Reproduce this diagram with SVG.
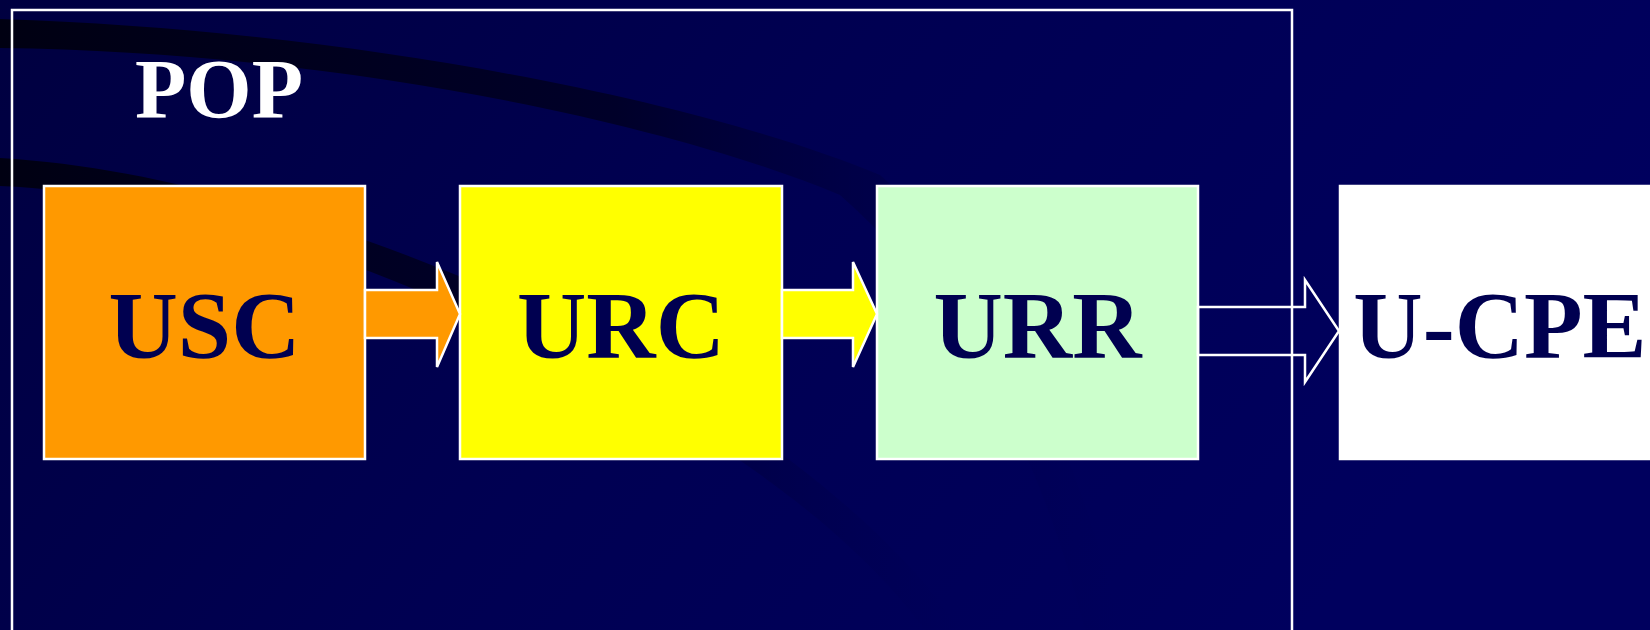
<svg xmlns="http://www.w3.org/2000/svg" width="1650" height="630" viewBox="0 0 1650 630">
  <defs>
    <linearGradient id="bg" x1="0" y1="0" x2="1" y2="0.3">
      <stop offset="0" stop-color="#000040"/>
      <stop offset="0.5" stop-color="#000052"/>
      <stop offset="1" stop-color="#00005E"/>
    </linearGradient>
    <linearGradient id="band" x1="0" y1="0" x2="1" y2="0">
      <stop offset="0" stop-color="#000012" stop-opacity="1"/>
      <stop offset="0.55" stop-color="#000020" stop-opacity="0.8"/>
      <stop offset="1" stop-color="#000050" stop-opacity="0"/>
    </linearGradient>
    <style>
      .box { stroke: #FFFFFF; stroke-width: 2.5; }
      .lbl { font-family: "Liberation Serif", "Times New Roman", serif; font-weight: bold; font-size: 96px; fill: #000050; text-anchor: middle; }
      .arrow { stroke: #FFFFFF; stroke-width: 2.5; stroke-linejoin: miter; }
    </style>
  </defs>

  <g id="background">
    <rect x="0" y="0" width="1650" height="630" fill="url(#bg)"/>
    <path d="M0,19 C350,30 700,100 880,175 C1000,280 1080,450 1120,630 L1085,630 C1040,450 960,300 840,195 C660,120 330,52 0,48 Z" fill="url(#band)"/>
    <path d="M0,158 C200,170 420,250 620,350 C780,440 900,540 960,630 L925,630 C860,540 740,450 590,370 C400,275 200,195 0,186 Z" fill="url(#band)"/>
  </g>

  <g id="pop">
    <rect x="12" y="10" width="1280" height="700" fill="none" stroke="#FFFFFF" stroke-width="2.5"/>
    <text x="135" y="118" font-family="Liberation Serif, 'Times New Roman', serif" font-weight="bold" font-size="84" fill="#FFFFFF">POP</text>
  </g>

  <g id="usc">
    <rect class="box" x="44" y="186" width="321" height="273" fill="#FF9900"/>
    <text class="lbl" x="204.5" y="358">USC</text>
  </g>

  <g id="urc">
    <rect class="box" x="460" y="186" width="322" height="273" fill="#FFFF00"/>
    <text class="lbl" x="621" y="358">URC</text>
  </g>

  <g id="urr">
    <rect class="box" x="877" y="186" width="321" height="273" fill="#CCFFCC"/>
    <text class="lbl" x="1037.5" y="358">URR</text>
  </g>

  <g id="ucpe">
    <rect class="box" x="1340" y="186" width="321" height="273" fill="#FFFFFF"/>
    <text class="lbl" x="1500" y="358">U-CPE</text>
  </g>

  <g id="connectors">
    <polygon class="arrow" fill="#FF9900" points="365,290 437,290 437,262 460,314 437,367 437,338 365,338"/>
    <polygon class="arrow" fill="#FFFF00" points="782,290 853,290 853,262 877,314 853,367 853,338 782,338"/>
    <polygon class="arrow" fill="none" points="1198,307 1305,307 1305,280 1339,331 1305,382 1305,355 1198,355"/>
  </g>
</svg>
